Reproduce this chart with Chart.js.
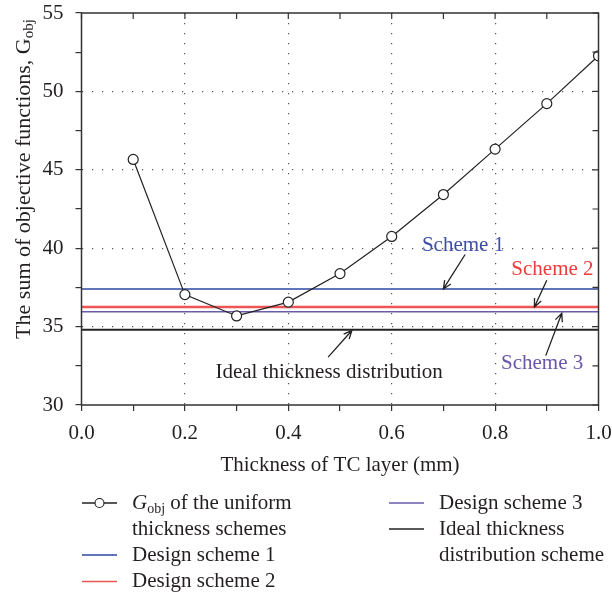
<!DOCTYPE html>
<html>
<head>
<meta charset="utf-8">
<script src="https://cdn.jsdelivr.net/npm/chart.js@4.4.1/dist/chart.umd.min.js"></script>
<style>
  html, body { margin: 0; padding: 0; background: #fff; }
  #wrap { width: 612px; height: 595px; }
</style>
</head>
<body>
<div id="wrap"><canvas id="chart" width="612" height="595"></canvas></div>
<script>
// thickness of the uniform TC layer (mm)
var thickness = [0.1, 0.2, 0.3, 0.4, 0.5, 0.6, 0.7, 0.8, 0.9, 1.0];
// G_obj of the uniform thickness schemes
var gObj = [45.66, 37.04, 35.68, 36.56, 38.38, 40.75, 43.42, 46.32, 49.22, 52.27];
// constant levels of the design schemes
var schemeLabels = ['Design scheme 1', 'Design scheme 2', 'Design scheme 3', 'Ideal thickness distribution scheme'];
var schemeValues = [37.4, 36.25, 35.95, 34.8];
var schemeColors = ['#2f47a2', '#f05555', '#6a5bad', '#222222'];
var schemeWidths = [1.5, 2.5, 1.5, 1.8];
var xRange = [0, 1];
var yRange = [30, 55];
var xLabelTicks = [0, 0.2, 0.4, 0.6, 0.8, 1.0];
var yLabelTicks = [30, 35, 40, 45, 50, 55];

var SERIF = '"Liberation Serif", "Times New Roman", serif';
var INK = '#231f20';
var FRAME = '#333333';
var FS = 21;

function isLabelTick(list, v) {
  return list.some(function (t) { return Math.abs(t - v) < 1e-6; });
}

var datasets = [{
  label: 'G_obj of the uniform thickness schemes',
  data: thickness.map(function (t, i) { return {x: t, y: gObj[i]}; }),
  borderColor: '#222',
  borderWidth: 1.2,
  pointRadius: 5,
  pointBorderWidth: 1.2,
  pointBackgroundColor: '#fff',
  pointBorderColor: '#222',
  tension: 0
}];
schemeValues.forEach(function (v, i) {
  datasets.push({
    label: schemeLabels[i],
    data: xRange.map(function (x) { return {x: x, y: v}; }),
    borderColor: schemeColors[i],
    borderWidth: schemeWidths[i],
    pointRadius: 0,
    tension: 0
  });
});

// callouts on the plot (position in data units)
var notes = [
  {text: 'Scheme 1', color: '#3d4fa3', at: [0.738, 40.18], from: [0.742, 39.6], to: [0.700, schemeValues[0]]},
  {text: 'Scheme 2', color: '#ee3b3b', at: [0.911, 38.62], from: [0.900, 37.95], to: [0.876, schemeValues[1]]},
  {text: 'Scheme 3', color: '#6a55a8', at: [0.891, 32.62], from: [0.898, 33.15], to: [0.929, schemeValues[2] - 0.1]},
  {text: 'Ideal thickness distribution', color: INK, at: [0.479, 32.07], from: [0.477, 33.05], to: [0.523, schemeValues[3] - 0.05]}
];

// legend layout: column x, row y, text lines
var legendItems = [
  {ds: 0, x: 82, y: 503, lines: ['@G', 'thickness schemes']},
  {ds: 1, x: 82, y: 555, lines: ['Design scheme 1']},
  {ds: 2, x: 82, y: 581.5, lines: ['Design scheme 2']},
  {ds: 3, x: 389, y: 503, lines: ['Design scheme 3']},
  {ds: 4, x: 389, y: 529, lines: ['Ideal thickness', 'distribution scheme']}
];

function arrow(ctx, x1, y1, x2, y2) {
  var a = Math.atan2(y2 - y1, x2 - x1), h = 9, w = 0.42;
  ctx.beginPath();
  ctx.moveTo(x1, y1);
  ctx.lineTo(x2, y2);
  ctx.moveTo(x2 - h * Math.cos(a - w), y2 - h * Math.sin(a - w));
  ctx.lineTo(x2, y2);
  ctx.lineTo(x2 - h * Math.cos(a + w), y2 - h * Math.sin(a + w));
  ctx.stroke();
}

var decor = {
  id: 'decor',
  afterDraw: function (chart) {
    var ctx = chart.ctx, a = chart.chartArea;
    var xs = chart.scales.x, ys = chart.scales.y;
    ctx.save();

    // frame and inward ticks on top / right
    ctx.strokeStyle = FRAME;
    ctx.lineWidth = 1.5;
    ctx.strokeRect(a.left, a.top, a.right - a.left, a.bottom - a.top);
    ctx.lineWidth = 1.2;
    ctx.beginPath();
    xs.ticks.forEach(function (t) {
      var px = xs.getPixelForValue(t.value);
      ctx.moveTo(px, a.top); ctx.lineTo(px, a.top + 6);
    });
    ys.ticks.forEach(function (t) {
      var py = ys.getPixelForValue(t.value);
      ctx.moveTo(a.right, py); ctx.lineTo(a.right - 6, py);
    });
    ctx.stroke();

    // callouts
    ctx.textAlign = 'center';
    ctx.textBaseline = 'middle';
    ctx.font = FS + 'px ' + SERIF;
    notes.forEach(function (n) {
      ctx.fillStyle = n.color;
      ctx.fillText(n.text, xs.getPixelForValue(n.at[0]), ys.getPixelForValue(n.at[1]));
      ctx.strokeStyle = '#222';
      ctx.lineWidth = 1.3;
      arrow(ctx, xs.getPixelForValue(n.from[0]), ys.getPixelForValue(n.from[1]),
        xs.getPixelForValue(n.to[0]), ys.getPixelForValue(n.to[1]));
    });

    // y axis title with subscript
    ctx.save();
    ctx.translate(24, 179);
    ctx.rotate(-Math.PI / 2);
    ctx.fillStyle = INK;
    ctx.textAlign = 'left';
    var main = 'The sum of objective functions, G';
    ctx.font = '22px ' + SERIF;
    var w1 = ctx.measureText(main).width;
    ctx.font = '15px ' + SERIF;
    var w2 = ctx.measureText('obj').width;
    var x0 = -(w1 + w2) / 2;
    ctx.font = '22px ' + SERIF;
    ctx.fillText(main, x0, 0);
    ctx.font = '15px ' + SERIF;
    ctx.fillText('obj', x0 + w1, 5);
    ctx.restore();

    // x axis title
    ctx.fillStyle = INK;
    ctx.font = FS + 'px ' + SERIF;
    ctx.textAlign = 'center';
    ctx.fillText('Thickness of TC layer (mm)', (a.left + a.right) / 2, 465);

    // legend
    ctx.textAlign = 'left';
    legendItems.forEach(function (it) {
      var ds = chart.data.datasets[it.ds];
      ctx.strokeStyle = ds.borderColor;
      ctx.lineWidth = 1.3;
      ctx.beginPath();
      ctx.moveTo(it.x, it.y); ctx.lineTo(it.x + 35, it.y);
      ctx.stroke();
      if (ds.pointRadius > 0) {
        ctx.beginPath();
        ctx.arc(it.x + 17.5, it.y, 4.5, 0, Math.PI * 2);
        ctx.fillStyle = '#fff';
        ctx.fill();
        ctx.lineWidth = 1.1;
        ctx.stroke();
      }
      ctx.fillStyle = INK;
      it.lines.forEach(function (line, k) {
        var tx = it.x + 50, ty = it.y + k * 26.3;
        if (line === '@G') {
          ctx.font = 'italic ' + FS + 'px ' + SERIF;
          ctx.fillText('G', tx, ty);
          var gw = ctx.measureText('G').width;
          ctx.font = '14px ' + SERIF;
          ctx.fillText('obj', tx + gw, ty + 6);
          var sw = ctx.measureText('obj').width;
          ctx.font = FS + 'px ' + SERIF;
          ctx.fillText(' of the uniform', tx + gw + sw, ty);
        } else {
          ctx.font = FS + 'px ' + SERIF;
          ctx.fillText(line, tx, ty);
        }
      });
    });
    ctx.restore();
  }
};

new Chart(document.getElementById('chart'), {
  type: 'line',
  data: {datasets: datasets},
  options: {
    responsive: false,
    animation: false,
    devicePixelRatio: 1,
    layout: {padding: {left: 0, right: 13.5, top: 13, bottom: 150}},
    plugins: {legend: {display: false}, tooltip: {enabled: false}, title: {display: false}},
    scales: {
      x: {
        type: 'linear',
        min: xRange[0], max: xRange[1],
        afterFit: function (s) { s.height = 40; s.paddingLeft = 0; s.paddingRight = 0; },
        ticks: {
          stepSize: 0.1, autoSkip: false, maxRotation: 0, padding: 10,
          color: INK, font: {family: SERIF, size: FS},
          callback: function (v) { return isLabelTick(xLabelTicks, v) ? v.toFixed(1) : ''; }
        },
        grid: {
          color: function (c) {
            var v = c.tick ? c.tick.value : null;
            if (v === null || !isLabelTick(xLabelTicks, v) || v <= xRange[0] + 1e-6 || v >= xRange[1] - 1e-6) return 'rgba(0,0,0,0)';
            return '#555';
          },
          lineWidth: 1.2, tickLength: 6, tickColor: FRAME, tickWidth: 1.2
        },
        border: {display: false, dash: [1.2, 8.8]}
      },
      y: {
        type: 'linear',
        min: yRange[0], max: yRange[1],
        afterFit: function (s) { s.width = 81.5; s.paddingTop = 0; s.paddingBottom = 0; },
        ticks: {
          stepSize: 2.5, autoSkip: false, padding: 12,
          color: INK, font: {family: SERIF, size: FS},
          callback: function (v) { return isLabelTick(yLabelTicks, v) ? String(v) : ''; }
        },
        grid: {
          color: function (c) {
            var v = c.tick ? c.tick.value : null;
            if (v === null || !isLabelTick(yLabelTicks, v) || v <= yRange[0] + 1e-6 || v >= yRange[1] - 1e-6) return 'rgba(0,0,0,0)';
            return '#555';
          },
          lineWidth: 1.2, tickLength: 6, tickColor: FRAME, tickWidth: 1.2
        },
        border: {display: false, dash: [1.2, 8.8]}
      }
    }
  },
  plugins: [decor]
});
</script>
</body>
</html>
